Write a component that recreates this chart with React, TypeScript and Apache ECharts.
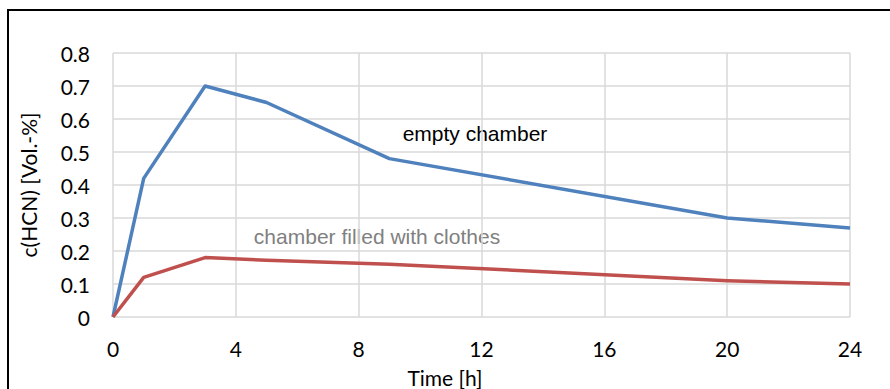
import React, { useEffect, useRef } from "react";
import * as echarts from "echarts";

const hours = [0, 1, 3, 5, 9, 20, 24];
const emptyChamber = [0, 0.42, 0.7, 0.65, 0.48, 0.3, 0.27];
const filledChamber = [0, 0.12, 0.18, 0.172, 0.16, 0.11, 0.1];
const xTicks = [0, 4, 8, 12, 16, 20, 24];
const yTicks = [0, 0.1, 0.2, 0.3, 0.4, 0.5, 0.6, 0.7, 0.8];

const tickFont = "Lato, 'Open Sans', sans-serif";
const noteFont = "'Liberation Sans', Arial, sans-serif";

export default function App() {
  const ref = useRef<HTMLDivElement>(null);
  useEffect(() => {
    if (!ref.current) return;
    const chart = echarts.init(ref.current, null, { renderer: "svg" });
    const gridColor = "#D9D9D9";
    chart.setOption({
      animation: false,
      backgroundColor: "#ffffff",
      grid: { left: 113, right: 40, top: 53, bottom: 72, containLabel: false },
      xAxis: {
        type: "value",
        min: xTicks[0],
        max: xTicks[xTicks.length - 1],
        interval: 4,
        axisLine: { show: false },
        axisTick: { show: false },
        splitLine: { show: true, lineStyle: { color: gridColor, width: 1.5 } },
        axisLabel: {
          margin: 21,
          fontFamily: tickFont,
          fontSize: 21,
          color: "#000000",
          formatter: (v: number) => String(v),
        },
      },
      yAxis: {
        type: "value",
        min: yTicks[0],
        max: yTicks[yTicks.length - 1],
        interval: 0.1,
        axisLine: { show: false },
        axisTick: { show: false },
        splitLine: { show: true, lineStyle: { color: gridColor, width: 1.5 } },
        axisLabel: {
          margin: 23,
          fontFamily: tickFont,
          fontSize: 21,
          color: "#000000",
          formatter: (v: number) => (Math.round(v * 10) / 10).toString(),
        },
      },
      series: [
        {
          name: "empty chamber",
          type: "line",
          data: hours.map((h, i) => [h, emptyChamber[i]]),
          showSymbol: false,
          lineStyle: { color: "#4F81BD", width: 3.5, join: "round" },
          itemStyle: { color: "#4F81BD" },
        },
        {
          name: "chamber filled with clothes",
          type: "line",
          data: hours.map((h, i) => [h, filledChamber[i]]),
          showSymbol: false,
          lineStyle: { color: "#C0504D", width: 3.5, join: "round" },
          itemStyle: { color: "#C0504D" },
        },
      ],
      graphic: [
        {
          type: "rect",
          shape: { x: 8, y: 10, width: 1200, height: 1200 },
          style: { fill: "none", stroke: "#000000", lineWidth: 2 },
          silent: true,
        },
        {
          type: "text",
          x: 475,
          y: 133,
          style: {
            text: "empty chamber",
            fontFamily: noteFont,
            fontSize: 21,
            fill: "#000000",
            align: "center",
            verticalAlign: "middle",
          },
        },
        {
          type: "text",
          x: 377,
          y: 236,
          style: {
            text: "chamber filled with clothes",
            fontFamily: noteFont,
            fontSize: 21,
            fill: "#808080",
            align: "center",
            verticalAlign: "middle",
          },
        },
        {
          type: "text",
          x: 445,
          y: 377,
          style: {
            text: "Time [h]",
            fontFamily: tickFont,
            fontSize: 21,
            fill: "#000000",
            align: "center",
            verticalAlign: "middle",
          },
        },
        {
          type: "text",
          x: 28,
          y: 185,
          rotation: Math.PI / 2,
          style: {
            text: "c(HCN) [Vol.-%]",
            fontFamily: tickFont,
            fontSize: 21,
            fill: "#000000",
            align: "center",
            verticalAlign: "middle",
          },
        },
      ],
    });
    return () => chart.dispose();
  }, []);
  return (
    <div
      ref={ref}
      style={{ position: "fixed", left: 0, top: 0, width: 890, height: 389 }}
    />
  );
}
